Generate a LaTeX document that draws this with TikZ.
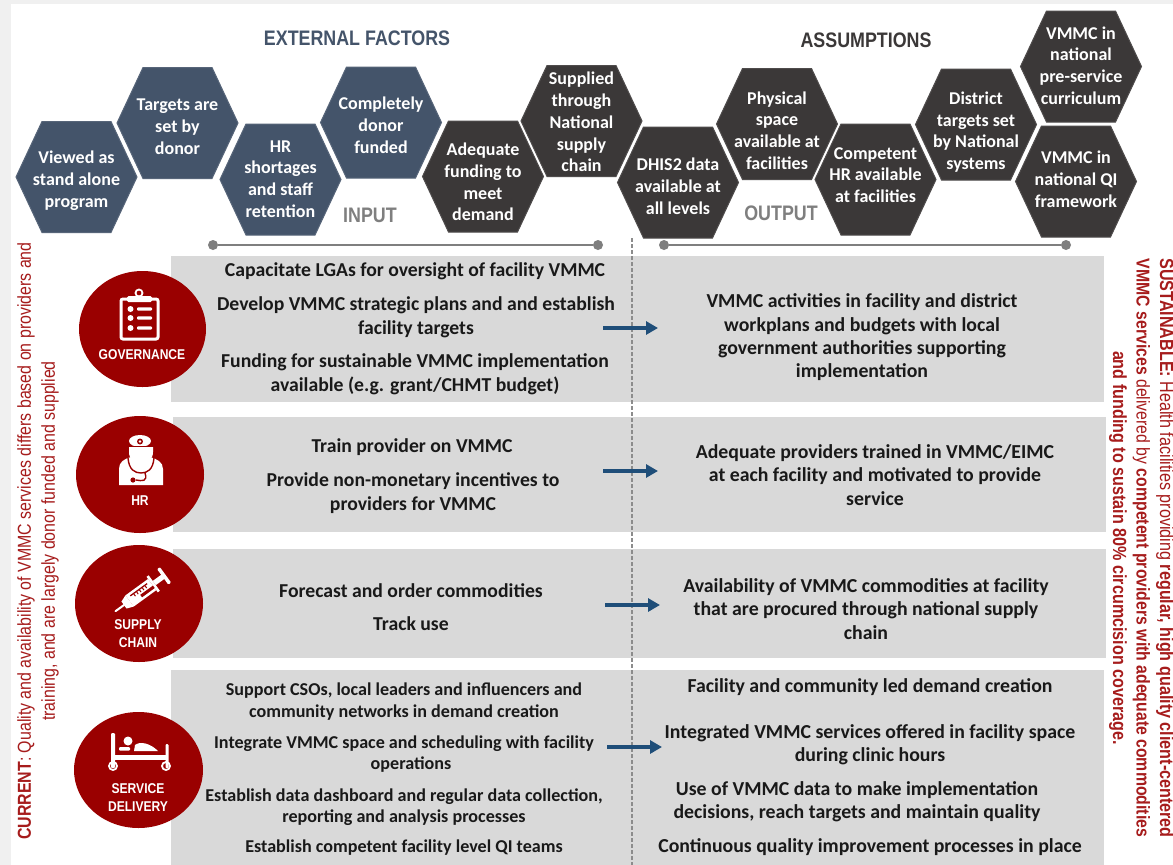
\documentclass[tikz,border=0pt]{standalone}
\usepackage{fontspec}
\setmainfont{Carlito}
\newfontfamily\nar[FakeStretch=0.85]{Liberation Sans}
\definecolor{slate}{HTML}{44546A}
\definecolor{charc}{HTML}{3B3838}
\definecolor{panelg}{HTML}{D9D9D9}
\definecolor{dotg}{HTML}{7F7F7F}
\definecolor{crim}{HTML}{9A0000}
\definecolor{sidered}{HTML}{A61C1C}
\definecolor{arrowb}{HTML}{1F4E79}
\newcommand\hexa[6]{%
  \path[fill=#4,draw=#4!90!white,line width=1pt] (#2-60.5,#3) -- (#2-34.5,#3-55.5) -- (#2+34.5,#3-55.5) -- (#2+60.5,#3) -- (#2+34.5,#3+55.5) -- (#2-34.5,#3+55.5) -- cycle;
  \node[hextext] (#1) at (#2,#5) {#6};}
\tikzset{
  hextext/.style={font=\fontsize{18}{21.8}\selectfont\bfseries,text=white,align=center,inner sep=0pt},
  body/.style={font=\fontsize{19.7}{24}\selectfont\bfseries,text=black!90,align=center,inner sep=0pt},
  bodysm/.style={font=\fontsize{18.1}{21.3}\selectfont\bfseries,text=black!90,align=center,inner sep=0pt},
  bodyrt/.style={font=\fontsize{19.8}{23.3}\selectfont\bfseries,text=black!90,align=center,inner sep=0pt},
  panel/.style={fill=panelg,draw=none},
  badge/.style={ellipse,fill=crim,draw=none,inner sep=0pt},
  badgetext/.style={font=\nar\fontsize{14.2}{18}\selectfont\bfseries,text=white,align=center,inner sep=0pt},
  header/.style={font=\nar\fontsize{21}{24}\selectfont\bfseries,inner sep=0pt},
  sideleft/.style={font=\nar\fontsize{18.75}{24}\selectfont,text=sidered,align=center,inner sep=0pt},
  sideright/.style={font=\nar\fontsize{19}{23.5}\selectfont,text=sidered,align=center,inner sep=0pt},
  dotn/.style={circle,fill=dotg,minimum size=10pt,inner sep=0pt},
  flow/.style={-{Triangle[length=12pt,width=13pt]},draw=arrowb,fill=arrowb,line width=4pt},
  icon/.style={fill=white,draw=none},
}
\usetikzlibrary{shapes.geometric,arrows.meta}
\begin{document}
\begin{tikzpicture}[x=1pt,y=-1pt]
\useasboundingbox (0,0) rectangle (1173,865);
% page
\fill[white] (0,0) rectangle (1173,865);
\fill[black!6] (0,0) rectangle (11,865);
\fill[black!6] (0,0) rectangle (1173,4);
% panels
\fill[panel] (171,256) rectangle (1104,402);
\fill[panel] (173,417) rectangle (1106,532);
\fill[panel] (173,549) rectangle (1106,658);
\fill[panel] (171,670) rectangle (1104,865);
% divider
\coordinate (divt) at (632,238);
\coordinate (divb) at (632,865);
\draw[black!45,line width=1.3pt,dash pattern=on 4pt off 2pt] (divt) -- (divb);
% timeline lines
\node[dotn] (in1) at (213,245) {};
\node[dotn] (in2) at (598,245) {};
\node[dotn] (out1) at (664,245) {};
\node[dotn] (out2) at (1066,245) {};
\draw[dotg,line width=1.2pt] (in1) -- (in2);
\draw[dotg,line width=1.2pt] (out1) -- (out2);
% headers
\node[header,text=slate] (ext) at (357,38) {EXTERNAL FACTORS};
\node[header,text=charc] (ass) at (866,40) {ASSUMPTIONS};
\node[header,text=dotg] (inp) at (370,215) {INPUT};
\node[header,text=dotg] (outp) at (781,213) {OUTPUT};
% hexagons
\hexa{h1}{76.5}{177}{slate}{181}{Viewed as\\stand alone\\program}
\hexa{h2}{177.5}{123}{slate}{127}{Targets are\\set by\\donor}
\hexa{h3}{280.5}{179.5}{slate}{179}{HR\\shortages\\and staff\\retention}
\hexa{h4}{381}{122.5}{slate}{125}{Completely\\donor\\funded}
\hexa{h5}{483}{176.5}{charc}{182}{Adequate\\funding to\\meet\\demand}
\hexa{h6}{581.5}{121}{charc}{122}{Supplied\\through\\National\\supply\\chain}
\hexa{h7}{678}{182.5}{charc}{186.5}{DHIS2 data\\available at\\all levels}
\hexa{h8}{777}{124}{charc}{130.5}{Physical\\space\\available at\\facilities}
\hexa{h9}{875.5}{179.5}{charc}{175}{Competent\\HR available\\at facilities}
\hexa{h10}{976}{124.5}{charc}{132}{District\\targets set\\by National\\systems}
\hexa{h11}{1081}{66.5}{charc}{65.5}{VMMC in\\national\\pre-service\\curriculum}
\hexa{h12}{1076}{181.5}{charc}{179}{VMMC in\\national QI\\framework}
% badges
\node[badge,minimum width=127pt,minimum height=116pt] (gov) at (142.5,329) {};
\node[badge,minimum width=128pt,minimum height=117pt] (hr) at (140,474.5) {};
\node[badge,minimum width=128pt,minimum height=117pt] (sup) at (139,603.5) {};
\node[badge,minimum width=129pt,minimum height=116pt] (svc) at (138.5,770) {};
\node[badgetext] (govt) at (142,355) {GOVERNANCE};
\node[badgetext] (hrt) at (140,501) {HR};
\node[badgetext] (supt) at (138,634) {SUPPLY\\CHAIN};
\node[badgetext] (svct) at (138,798) {SERVICE\\DELIVERY};
% clipboard icon
\draw[white,line width=3pt,rounded corners=2pt] (121,299) rectangle (158,339);
\fill[icon,rounded corners=1.5pt] (127,296) rectangle (152,302);
\draw[white,line width=1.8pt] (139,293) circle (3.5pt);
\foreach \yy in {309,318,328}{
  \fill[icon] (130.5,\yy) circle (3pt);
  \fill[icon,rounded corners=1pt] (137,\yy-1.7) rectangle (152,\yy+1.7);
}
% doctor icon
\fill[icon] (119,485) -- (119,469) .. controls (119,462) and (124,459) .. (131,457) -- (150,457) .. controls (157,459) and (163,462) .. (163,469) -- (163,485) -- cycle;
\fill[icon] (129,447) -- (153,447) -- (153,452) .. controls (153,460) and (147,463) .. (141,463) .. controls (135,463) and (129,460) .. (129,452) -- cycle;
\fill[icon] (140,441) ellipse (11pt and 6pt);
\draw[crim,line width=1.2pt] (127,446.5) -- (155,446.5);
\fill[crim] (140,441.5) circle (3pt);
\fill[icon] (140,441.5) circle (1.4pt);
\draw[crim,line width=1.4pt] (128,458) .. controls (129,470) and (135,473) .. (141,473) .. controls (147,473) and (153,470) .. (154,458);
\draw[crim,line width=1.4pt] (145,473) .. controls (148,482) and (142,481) .. (136,480);
\fill[crim] (133,480) circle (2.6pt);
% syringe icon
\begin{scope}[shift={(143.7,590.7)},rotate=36,scale=0.87]
  \fill[icon] (-20,-8) rectangle (12,8);
  \fill[icon] (-28,-5) -- (-20,-8) -- (-20,8) -- (-28,5) -- cycle;
  \draw[white,line width=2pt,line cap=round] (-40,0) -- (-26,0);
  \fill[icon] (12,-11) rectangle (15,11);
  \fill[icon] (15,-3) rectangle (28,3);
  \fill[icon,rounded corners=1pt] (27,-11) rectangle (31,11);
  \fill[crim] (-6,1.5) rectangle (12,5);
  \fill[crim] (-16,-5) rectangle (8,-3.5);
  \foreach \xx in {-12,-8,-4,0,4}{\fill[crim] (\xx,-3.5) rectangle (\xx+1.2,-0.5);}
\end{scope}
% bed icon
\fill[icon,rounded corners=1pt] (111,733) rectangle (115,768);
\fill[icon,rounded corners=1pt] (165.5,744) rectangle (168.5,768);
\fill[icon] (111,755) rectangle (168,760);
\draw[white,line width=1.8pt] (113,766) circle (4pt);
\draw[white,line width=1.8pt] (166,766) circle (4pt);
\fill[icon] (128,741) circle (4.5pt);
\fill[icon,rounded corners=1pt] (119,747) rectangle (130,750.5);
\fill[icon] (134,751) -- (135,745) .. controls (140,741) and (150,743) .. (158,751) -- cycle;
% panel texts
\node[body] (t1a) at (415,271) {Capacitate LGAs for oversight of facility VMMC};
\node[body] (t1b) at (416,317) {Develop VMMC strategic plans and and establish\\facility targets};
\node[body] (t1c) at (415,374.5) {Funding for sustainable VMMC implementation\\available (e.g. grant/CHMT budget)};
\node[bodyrt] (r1) at (862,337.5) {VMMC activities in facility and district\\workplans and budgets with local\\government authorities supporting\\implementation};
\node[body] (t2a) at (412,447) {Train provider on VMMC};
\node[body] (t2b) at (413,493.5) {Provide non-monetary incentives to\\providers for VMMC};
\node[bodyrt] (r2) at (875,475) {Adequate providers trained in VMMC/EIMC\\at each facility and motivated to provide\\service};
\node[body] (t3a) at (411,591) {Forecast and order commodities};
\node[body] (t3b) at (411,624) {Track use};
\node[bodyrt] (r3) at (866,609) {Availability of VMMC commodities at facility\\that are procured through national supply\\chain};
\node[bodysm] (t4a) at (404,701.5) {Support CSOs, local leaders and influencers and\\community networks in demand creation};
\node[bodysm] (t4b) at (404,754) {Integrate VMMC space and scheduling with facility\\\hspace*{14pt}operations};
\node[bodysm] (t4c) at (404,807) {Establish data dashboard and regular data collection,\\reporting and analysis processes};
\node[bodysm] (t4d) at (404,848) {Establish competent facility level QI teams};
\node[bodyrt] (r4a) at (870,687) {Facility and community led demand creation};
\node[bodyrt] (r4b) at (870,744.5) {Integrated VMMC services offered in facility space\\during clinic hours};
\node[bodyrt] (r4c) at (857,801.5) {Use of VMMC data to make implementation\\decisions, reach targets and maintain quality};
\node[bodyrt] (r4d) at (870,847) {Continuous quality improvement processes in place};
% arrows
\coordinate (a1s) at (603,328); \coordinate (a1e) at (658,328);
\coordinate (a2s) at (603,471); \coordinate (a2e) at (658,471);
\coordinate (a3s) at (605,605); \coordinate (a3e) at (660,605);
\coordinate (a4s) at (607,747); \coordinate (a4e) at (662,747);
\draw[flow] (a1s) -- (a1e);
\draw[flow] (a2s) -- (a2e);
\draw[flow] (a3s) -- (a3e);
\draw[flow] (a4s) -- (a4e);
% side texts
\node[sideleft,rotate=90] (cur) at (38,541) {\textbf{CURRENT}: Quality and availability of VMMC services differs based on providers and\\training, and are largely donor funded and supplied};
\node[sideright,rotate=-90] (sus) at (1141.5,548) {\textbf{SUSTAINABLE:} Health facilities providing \textbf{regular, high quality client-centered}\\{\fontsize{18.6}{23.5}\selectfont\textbf{VMMC services} delivered by \textbf{competent providers with adequate commodities}}\\\textbf{and funding to sustain 80\% circumcision coverage.}};
\end{tikzpicture}
\end{document}
